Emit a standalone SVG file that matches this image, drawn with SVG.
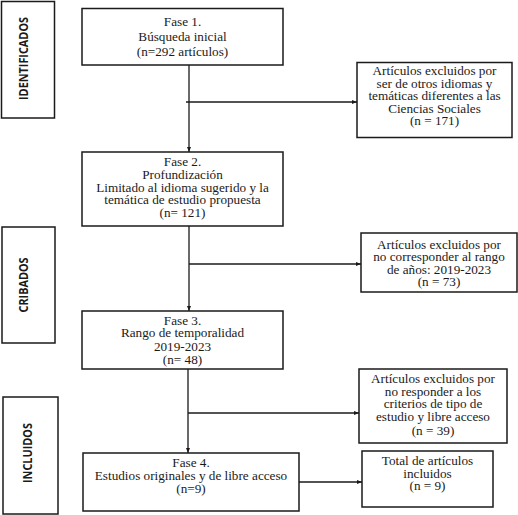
<svg xmlns="http://www.w3.org/2000/svg" width="518" height="515" viewBox="0 0 518 515">
<defs>
<style>
.box{fill:#fff;stroke:#1a1a1a;stroke-width:1.5}
.t{font-family:"Liberation Serif","Times New Roman",serif;font-size:12px;fill:#1a1a1a;text-anchor:middle}
.side{font-family:"Open Sans","Liberation Sans",sans-serif;font-weight:bold;font-size:12.5px;fill:#1a1a1a;text-anchor:middle}
.c{stroke:#1a1a1a;stroke-width:1.3;fill:none}
</style>
<marker id="ah" viewBox="0 0 10 10" refX="10" refY="5" markerWidth="5" markerHeight="5" orient="auto" markerUnits="userSpaceOnUse">
<path d="M0,1 L10,5 L0,9 Z" fill="#1a1a1a"/>
</marker>
</defs>
<rect width="518" height="515" fill="#fff"/>
<g id="stage-identificados">
<rect class="box" x="1.5" y="1.5" width="53" height="116.5"/>
<text class="side" transform="translate(23,58.5) rotate(-90)" y="4.5" textLength="83" lengthAdjust="spacingAndGlyphs">IDENTIFICADOS</text>
</g>
<g id="stage-cribados">
<rect class="box" x="2" y="227" width="53" height="116"/>
<text class="side" transform="translate(23,285) rotate(-90)" y="4.5" textLength="55" lengthAdjust="spacingAndGlyphs">CRIBADOS</text>
</g>
<g id="stage-incluidos">
<rect class="box" x="3" y="397" width="55" height="117"/>
<text class="side" transform="translate(27,453) rotate(-90)" y="4.5" textLength="60" lengthAdjust="spacingAndGlyphs">INCLUIDOS</text>
</g>
<g id="connectors">
<line class="c" x1="189" y1="65" x2="189" y2="152" marker-end="url(#ah)"/>
<line class="c" x1="186" y1="102" x2="357" y2="102" marker-end="url(#ah)"/>
<line class="c" x1="189" y1="226" x2="189" y2="311" marker-end="url(#ah)"/>
<line class="c" x1="189" y1="264" x2="361" y2="264" marker-end="url(#ah)"/>
<line class="c" x1="188" y1="369" x2="188" y2="453" marker-end="url(#ah)"/>
<line class="c" x1="188" y1="413" x2="359" y2="413" marker-end="url(#ah)"/>
<line class="c" x1="299" y1="482" x2="362" y2="482" marker-end="url(#ah)"/>
</g>
<g id="fase1">
<rect class="box" x="82" y="8.5" width="201" height="56.5"/>
<g transform="translate(182.5,0) scale(1.1,1)">
<text class="t" x="0" y="26">Fase 1.</text>
<text class="t" x="0" y="41">Búsqueda inicial</text>
<text class="t" x="0" y="56">(n=292 artículos)</text>
</g>
</g>
<g id="excl1">
<rect class="box" x="357" y="62.5" width="155" height="75"/>
<g transform="translate(434.5,0) scale(1.1,1)">
<text class="t" x="0" y="75.5">Artículos excluidos por</text>
<text class="t" x="0" y="88">ser de otros idiomas y</text>
<text class="t" x="0" y="100.5">temáticas diferentes a las</text>
<text class="t" x="0" y="113">Ciencias Sociales</text>
<text class="t" x="0" y="125.5">(n = 171)</text>
</g>
</g>
<g id="fase2">
<rect class="box" x="82" y="152" width="201" height="74"/>
<g transform="translate(182.5,0) scale(1.1,1)">
<text class="t" x="0" y="166.5">Fase 2.</text>
<text class="t" x="0" y="179">Profundización</text>
<text class="t" x="0" y="192">Limitado al idioma sugerido y la</text>
<text class="t" x="0" y="204.5">temática de estudio propuesta</text>
<text class="t" x="0" y="217">(n= 121)</text>
</g>
</g>
<g id="excl2">
<rect class="box" x="361" y="233" width="156" height="59"/>
<g transform="translate(439,0) scale(1.1,1)">
<text class="t" x="0" y="249">Artículos excluidos por</text>
<text class="t" x="0" y="261.5">no corresponder al rango</text>
<text class="t" x="0" y="274">de años: 2019-2023</text>
<text class="t" x="0" y="286.5">(n = 73)</text>
</g>
</g>
<g id="fase3">
<rect class="box" x="82" y="311" width="201" height="58"/>
<g transform="translate(182.5,0) scale(1.1,1)">
<text class="t" x="0" y="325">Fase 3.</text>
<text class="t" x="0" y="337.5">Rango de temporalidad</text>
<text class="t" x="0" y="351">2019-2023</text>
<text class="t" x="0" y="364">(n= 48)</text>
</g>
</g>
<g id="excl3">
<rect class="box" x="359" y="369" width="148" height="74"/>
<g transform="translate(433,0) scale(1.1,1)">
<text class="t" x="0" y="383.5">Artículos excluidos por</text>
<text class="t" x="0" y="396">no responder a los</text>
<text class="t" x="0" y="408.5">criterios de tipo de</text>
<text class="t" x="0" y="421.5">estudio y libre acceso</text>
<text class="t" x="0" y="435">(n = 39)</text>
</g>
</g>
<g id="fase4">
<rect class="box" x="83" y="453" width="216" height="58"/>
<g transform="translate(191,0) scale(1.1,1)">
<text class="t" x="0" y="467.5">Fase 4.</text>
<text class="t" x="0" y="480">Estudios originales y de libre acceso</text>
<text class="t" x="0" y="493">(n=9)</text>
</g>
</g>
<g id="total">
<rect class="box" x="362" y="451" width="131" height="56"/>
<g transform="translate(427.5,0) scale(1.1,1)">
<text class="t" x="0" y="465.5">Total de artículos</text>
<text class="t" x="0" y="478">incluidos</text>
<text class="t" x="0" y="490.5">(n = 9)</text>
</g>
</g>
</svg>
